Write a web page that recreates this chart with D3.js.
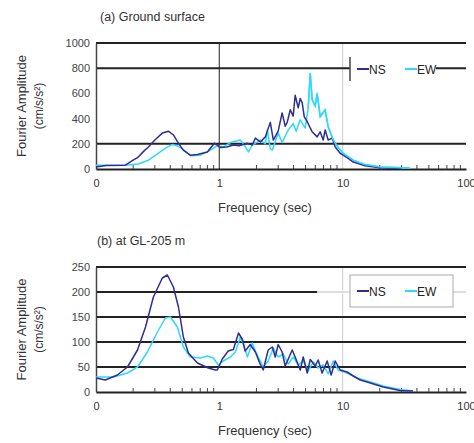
<!DOCTYPE html>
<html>
<head>
<meta charset="utf-8">
<script src="https://cdn.jsdelivr.net/npm/d3@7"></script>
<style>
  body { margin: 0; background: #fff; }
  text { font-family: "Liberation Sans", Arial, sans-serif; }
</style>
</head>
<body>
<div id="chart"></div>
<script>
// x tick labels (Excel style, 0.1 shows as "0")
var xTickVals = [0.1, 1, 10, 100];
var xTickLabels = ["0", "1", "10", "100"];

// (a) Ground surface
var surfFreqNS = [0.1, 0.12, 0.173, 0.2, 0.217, 0.243, 0.266, 0.3, 0.345, 0.386, 0.424, 0.466, 0.51, 0.582, 0.664, 0.8, 0.911, 0.963, 1.019, 1.15, 1.3, 1.45, 1.68, 1.85, 1.96, 2.15, 2.36, 2.59, 2.74, 3.0, 3.23, 3.42, 3.55, 3.76, 3.97, 4.12, 4.36, 4.53, 4.7, 4.88, 5.16, 5.66, 6.21, 6.57, 6.95, 7.21, 7.63, 8.22, 8.7, 9.55, 10.86, 12.2, 15.2, 20.1, 26.6, 30];
var surfNS = [15, 28, 30, 70, 90, 140, 175, 230, 285, 300, 270, 205, 150, 110, 115, 135, 205, 190, 170, 175, 190, 185, 205, 190, 245, 215, 255, 370, 230, 300, 445, 340, 370, 470, 420, 585, 485, 560, 525, 415, 375, 295, 255, 295, 230, 310, 230, 245, 175, 125, 90, 55, 25, 10, 5, 3];
var surfFreqEW = [0.1, 0.173, 0.22, 0.266, 0.315, 0.366, 0.416, 0.466, 0.51, 0.582, 0.7, 0.815, 0.963, 1.08, 1.23, 1.48, 1.62, 1.72, 1.85, 2.15, 2.36, 2.45, 2.59, 2.69, 3.0, 3.23, 3.62, 3.97, 4.2, 4.53, 4.97, 5.25, 5.46, 5.66, 5.99, 6.21, 6.57, 7.21, 7.63, 8.38, 9.03, 10.1, 12.2, 15.2, 20.1, 35.2];
var surfEW = [30, 30, 40, 70, 120, 165, 195, 180, 155, 105, 110, 140, 185, 175, 210, 230, 180, 135, 190, 230, 200, 310, 160, 150, 285, 210, 310, 360, 300, 390, 325, 480, 760, 550, 500, 600, 415, 470, 335, 230, 180, 125, 70, 35, 15, 8];
var surfYTicks = [0, 200, 400, 600, 800, 1000];

// (b) at GL-205 m
var deepFreqNS = [0.1, 0.119, 0.149, 0.18, 0.217, 0.252, 0.292, 0.345, 0.379, 0.424, 0.466, 0.511, 0.561, 0.664, 0.815, 0.928, 0.963, 1.057, 1.18, 1.3, 1.43, 1.54, 1.62, 1.78, 1.96, 2.15, 2.27, 2.49, 2.69, 2.84, 3.0, 3.23, 3.42, 3.9, 4.12, 4.53, 4.79, 5.16, 5.46, 5.99, 6.33, 6.82, 7.49, 8.07, 8.7, 9.55, 10.86, 12.2, 13.9, 15.8, 21.3, 29.2, 37.2];
var deepNS = [28, 24, 34, 50, 84, 130, 190, 228, 234, 210, 170, 110, 78, 58, 48, 44, 44, 66, 82, 85, 118, 105, 82, 95, 80, 55, 44, 84, 90, 70, 95, 80, 52, 84, 70, 44, 70, 38, 65, 52, 64, 38, 62, 34, 62, 44, 40, 32, 24, 20, 10, 3, 2];
var deepFreqEW = [0.1, 0.139, 0.18, 0.217, 0.261, 0.315, 0.366, 0.401, 0.457, 0.511, 0.582, 0.702, 0.8, 0.894, 0.981, 1.077, 1.23, 1.35, 1.48, 1.54, 1.69, 1.85, 1.96, 2.07, 2.27, 2.49, 2.74, 3.0, 3.3, 3.62, 3.97, 4.36, 4.79, 5.25, 5.77, 6.33, 6.95, 7.63, 8.38, 9.2, 10.86, 13.1, 15.8, 21.3, 29.2, 37.2];
var deepEW = [30, 30, 38, 50, 80, 120, 148, 150, 130, 90, 70, 68, 72, 68, 54, 62, 70, 80, 110, 100, 70, 98, 82, 70, 50, 62, 88, 70, 76, 56, 70, 54, 62, 42, 60, 48, 54, 36, 62, 44, 38, 28, 22, 12, 5, 2];
var deepYTicks = [0, 50, 100, 150, 200, 250];

var seriesNames = ["NS", "EW"];
var colNS = "#2e2e96", colEW = "#2fd8ff";

var svg = d3.select("#chart").append("svg")
    .attr("width", 474).attr("height", 443);

var x = d3.scaleLog().domain([0.1, 100]).range([96, 466]);

function panel(opt) {
    var y = d3.scaleLinear().domain([0, opt.ymax]).range([opt.bottom, opt.top]);
    var g = svg.append("g");

    // title
    g.append("text").attr("x", opt.titleX).attr("y", opt.top - 22)
        .style("font-size", "12.5px").attr("fill", "#333").text(opt.title);

    // vertical grid
    g.append("line").attr("x1", x(10)).attr("x2", x(10))
        .attr("y1", opt.top).attr("y2", opt.bottom)
        .attr("stroke", "#ccc").attr("stroke-width", 1);
    if (opt.gridAt1) {
        g.append("line").attr("x1", x(1)).attr("x2", x(1))
            .attr("y1", opt.top).attr("y2", opt.bottom)
            .attr("stroke", "#555").attr("stroke-width", 1.3);
    }

    // horizontal grid
    opt.gridVals.forEach(function(v) {
        g.append("line").attr("x1", x(0.1)).attr("x2", x(100))
            .attr("y1", y(v)).attr("y2", y(v))
            .attr("stroke", "#222").attr("stroke-width", 2);
    });
    if (opt.fadeGrid) {
        // right part of that gridline is pale in the scan
        g.append("line").attr("x1", x(opt.fadeGrid[1])).attr("x2", x(100))
            .attr("y1", y(opt.fadeGrid[0])).attr("y2", y(opt.fadeGrid[0]))
            .attr("stroke", "#fff").attr("stroke-width", 3);
        g.append("line").attr("x1", x(opt.fadeGrid[1])).attr("x2", x(100))
            .attr("y1", y(opt.fadeGrid[0])).attr("y2", y(opt.fadeGrid[0]))
            .attr("stroke", "#bbb").attr("stroke-width", 1);
    }

    // y axis
    var yAxis = d3.axisLeft(y).tickValues(opt.yTicks).tickFormat(d3.format("d"))
        .tickSize(0).tickPadding(6);
    g.append("g").attr("transform", "translate(" + x(0.1) + ",0)")
        .call(yAxis)
        .call(a => a.select(".domain").attr("stroke", "#444").attr("stroke-width", 1.5))
        .call(a => a.selectAll("text").style("font-size", "11px").attr("fill", "#444"));

    // x axis with minor log ticks
    var minor = [];
    [0.1, 1, 10].forEach(function(d) {
        for (var k = 2; k <= 9; k++) minor.push(d * k);
    });
    var xAxis = d3.axisBottom(x).tickValues(xTickVals)
        .tickFormat((d, i) => xTickLabels[i]).tickSize(0).tickPadding(10);
    g.append("g").attr("transform", "translate(0," + opt.bottom + ")")
        .call(xAxis)
        .call(a => a.select(".domain").attr("stroke", "#222").attr("stroke-width", 2))
        .call(a => a.selectAll("text").style("font-size", "11px").attr("fill", "#333"));
    g.selectAll(".minor").data(minor).enter().append("line")
        .attr("x1", d => x(d)).attr("x2", d => x(d))
        .attr("y1", opt.bottom).attr("y2", opt.bottom - 4)
        .attr("stroke", "#444").attr("stroke-width", 1);

    // axis titles
    g.append("text").attr("x", 265).attr("y", opt.bottom + 43)
        .attr("text-anchor", "middle").style("font-size", "13px").attr("fill", "#333")
        .text("Frequency (sec)");
    var cy = (opt.top + opt.bottom) / 2;
    g.append("text").attr("transform", "translate(26," + cy + ") rotate(-90)")
        .attr("text-anchor", "middle").style("font-size", "13px").attr("fill", "#333")
        .text("Fourier Amplitude");
    g.append("text").attr("transform", "translate(43," + cy + ") rotate(-90)")
        .attr("text-anchor", "middle").style("font-size", "12px").attr("fill", "#333")
        .text("(cm/s/s²)");

    // lines
    var line = d3.line().x(d => x(d[0])).y(d => y(d[1]));
    [[opt.fEW, opt.vEW, colEW], [opt.fNS, opt.vNS, colNS]].forEach(function(s) {
        g.append("path").datum(d3.zip(s[0], s[1]))
            .attr("d", line).attr("fill", "none")
            .attr("stroke", s[2]).attr("stroke-width", 1.5)
            .attr("stroke-linejoin", "round");
    });
    if (opt.ewOnTop) {
        g.append("path").datum(d3.zip(opt.fEW, opt.vEW).filter(d => d[0] > 5))
            .attr("d", line).attr("fill", "none")
            .attr("stroke", colEW).attr("stroke-width", 1.5);
    }

    // legend
    var lg = g.append("g").attr("transform", "translate(" + opt.legX + "," + opt.legY + ")");
    lg.append("rect").attr("x", 0).attr("y", -opt.legH / 2)
        .attr("width", opt.legW).attr("height", opt.legH)
        .attr("fill", "#fff").attr("stroke", opt.legBorder ? "#aaa" : "none");
    if (!opt.legBorder) {
        lg.append("line").attr("x1", 0).attr("x2", 0)
            .attr("y1", -opt.legH / 2).attr("y2", opt.legH / 2)
            .attr("stroke", "#444").attr("stroke-width", 1.5);
    }
    [colNS, colEW].forEach(function(c, i) {
        var lx = 7 + i * 48;
        lg.append("line").attr("x1", lx).attr("x2", lx + 12)
            .attr("y1", 0).attr("y2", 0).attr("stroke", c).attr("stroke-width", 2);
        lg.append("text").attr("x", lx + 12).attr("y", 4.5)
            .style("font-size", "12px").attr("fill", "#222").text(seriesNames[i]);
    });
}

panel({
    title: "(a) Ground surface", titleX: 100,
    top: 43, bottom: 169, ymax: 1000, yTicks: surfYTicks,
    gridVals: [1000, 800, 200], gridAt1: true,
    fNS: surfFreqNS, vNS: surfNS, fEW: surfFreqEW, vEW: surfEW, ewOnTop: true,
    legX: 350, legY: 69, legW: 86, legH: 24, legBorder: false
});

panel({
    title: "(b) at GL-205 m", titleX: 97,
    top: 267, bottom: 392, ymax: 250, yTicks: deepYTicks,
    gridVals: [250, 200, 150, 100, 50], gridAt1: false, fadeGrid: [200, 6.2],
    fNS: deepFreqNS, vNS: deepNS, fEW: deepFreqEW, vEW: deepEW, ewOnTop: false,
    legX: 350, legY: 291, legW: 103, legH: 32, legBorder: true
});
</script>
</body>
</html>
